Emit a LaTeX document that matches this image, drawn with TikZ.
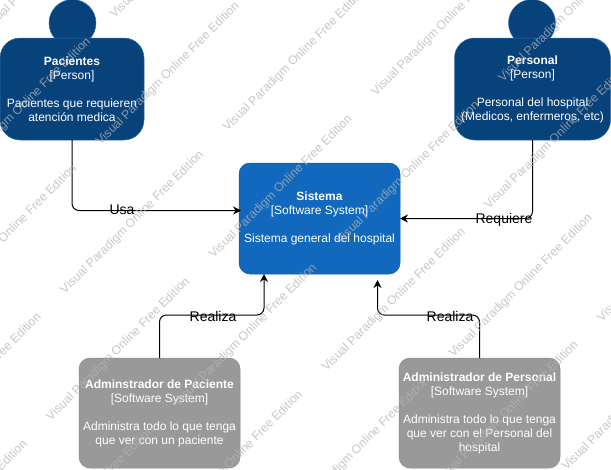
\documentclass[tikz,border=0pt]{standalone}
\usepackage{fontspec}
\setmainfont{Liberation Sans}
\usetikzlibrary{arrows.meta, positioning, calc}
\definecolor{c4color0}{HTML}{08427B}
\definecolor{c4color1}{HTML}{1168BD}
\definecolor{c4color2}{HTML}{999999}
\definecolor{c4color3}{HTML}{2F6FAE}
\definecolor{c4color4}{HTML}{0E5CA8}
\definecolor{c4color5}{HTML}{8A8A8A}
\definecolor{c4color6}{HTML}{B4B4B4}
\tikzset{
  box_text/.style={align=center, text=white, font=\fontsize{12}{14}\selectfont, inner sep=0pt, outer sep=0pt},
  box_person/.style={box_text, draw=c4color3, fill=c4color0, line width=0.5pt, rounded corners=20pt, minimum height=102pt},
  box_head/.style={circle, draw=c4color3, fill=c4color0, line width=0.5pt, minimum size=47pt, inner sep=0pt},
  box_system/.style={box_text, draw=c4color4, fill=c4color1, line width=0.5pt, rounded corners=11pt, minimum width=161pt, minimum height=111pt},
  box_admin/.style={box_text, draw=c4color5, fill=c4color2, line width=0.5pt, rounded corners=11pt, minimum width=161pt, minimum height=110pt},
  edge_rel/.style={draw=black, line width=1pt, rounded corners=7pt, -{Stealth[length=8pt, width=8pt]}},
  edge_label/.style={font=\fontsize{14}{16}\selectfont, inner sep=0pt},
  water_mark/.style={anchor=east, rotate=45, text=c4color6, opacity=0.75, font=\fontsize{12.2}{14}\selectfont, inner sep=0pt}
}
\begin{document}
\begin{tikzpicture}[x=1pt, y=-1pt]
\useasboundingbox (0,0) rectangle (611,469);
\begin{scope}
\clip (0,0) rectangle (611,469);
\node[box_head] (pacientes_head) at (72.5,23) {};
\node[box_head] (personal_head) at (532,23) {};
\node[box_person, minimum width=144pt] (pacientes_box) at (72,89) {\textbf{Pacientes}\\{}[Person]\\[14pt]Pacientes que requieren\\atención medica};
\node[box_person, minimum width=156pt] (personal_box) at (532.5,89) {\textbf{Personal}\\{}[Person]\\[14pt]Personal del hospital\\(Medicos, enfermeros, etc)};
\node[box_system] (sistema_box) at (319.5,218.5) {\textbf{Sistema}\\{}[Software System]\\[14pt]Sistema general del hospital};
\node[box_admin] (admin_paciente_box) at (159.5,413) {\textbf{Adminstrador de Paciente}\\{}[Software System]\\[14pt]Administra todo lo que tenga\\que ver con un paciente};
\node[box_admin] (admin_personal_box) at (479.5,413) {\textbf{Administrador de Personal}\\{}[Software System]\\[14pt]Administra todo lo que tenga\\que ver con el Personal del\\hospital};
\coordinate (sistema_in_a) at ($(sistema_box.west) + (2,-8)$);
\coordinate (sistema_in_b) at (sistema_box.east);
\coordinate (sistema_in_c) at ($(sistema_box.south) + (-55.5,0)$);
\coordinate (sistema_in_d) at ($(sistema_box.south) + (58,6)$);
\draw[edge_rel] (pacientes_box.south) -- (pacientes_box.south |- sistema_in_a) -- (sistema_in_a);
\draw[edge_rel] (personal_box.south) -- (personal_box.south |- sistema_in_b) -- (sistema_in_b);
\draw[edge_rel] (admin_paciente_box.north) -- ++(0,-43) -| (sistema_in_c);
\draw[edge_rel] (admin_personal_box.north) -- ++(0,-43) -| (sistema_in_d);
\node[edge_label] (usa_label) at (122,210) {Usa};
\node[edge_label] (requiere_label) at (504,219.5) {Requiere};
\node[edge_label] (realiza_a_label) at (213,316.5) {Realiza};
\node[edge_label] (realiza_b_label) at (450,316.5) {Realiza};
% watermark rows
\foreach \k in {-2,...,9} {
  \foreach \j in {-3,...,3} {
    \pgfmathsetmacro{\marksum}{242+113*\k}
    \pgfmathsetmacro{\markdif}{(isodd(\k) ? 49 : 233)+325*\j}
    \pgfmathsetmacro{\markx}{(\marksum+\markdif)/2}
    \pgfmathsetmacro{\marky}{(\marksum-\markdif)/2}
    \pgfmathtruncatemacro{\markshow}{and(and(\markx>0,\markx<752),and(\marky>-141,\marky<469+0))}
    \ifnum\markshow=1
      \node[water_mark] (mark_\k_\j) at (\markx,\marky) {Visual Paradigm Online Free Edition};
    \fi
  }
}
\end{scope}
\end{tikzpicture}
\end{document}
